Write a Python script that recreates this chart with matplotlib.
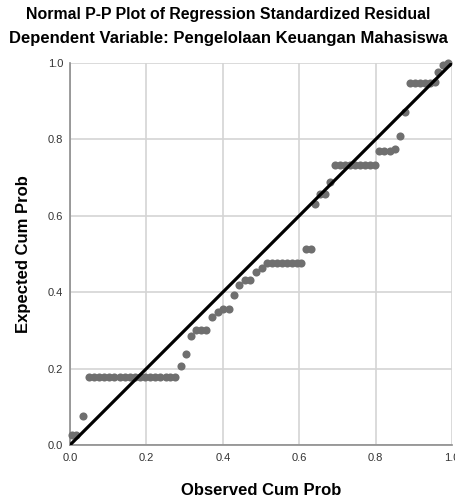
import numpy as np
import matplotlib.pyplot as plt

plt.rcParams['font.family'] = ['Liberation Sans', 'DejaVu Sans']

# observed vs expected cumulative probability
observed = [0.005, 0.015, 0.035,
            0.050, 0.063, 0.076, 0.090, 0.103, 0.116, 0.130, 0.143, 0.156,
            0.170, 0.183, 0.196, 0.210, 0.223, 0.236, 0.250, 0.263, 0.276,
            0.290, 0.303, 0.317, 0.330, 0.343, 0.357, 0.373, 0.388,
            0.401, 0.416, 0.429, 0.443, 0.458, 0.471, 0.488, 0.502,
            0.515, 0.528, 0.541, 0.555, 0.568, 0.581, 0.594, 0.605,
            0.617, 0.630, 0.641, 0.654, 0.667, 0.680,
            0.694, 0.707, 0.720, 0.733, 0.746, 0.759, 0.772, 0.785, 0.798,
            0.810, 0.823, 0.837, 0.850, 0.864, 0.877,
            0.890, 0.903, 0.916, 0.929, 0.942, 0.955,
            0.964, 0.977, 0.990]
expected = [0.026, 0.026, 0.076,
            0.179, 0.179, 0.179, 0.179, 0.179, 0.179, 0.179, 0.179, 0.179,
            0.179, 0.179, 0.179, 0.179, 0.179, 0.179, 0.179, 0.179, 0.179,
            0.207, 0.237, 0.286, 0.302, 0.302, 0.302, 0.336, 0.347,
            0.356, 0.356, 0.393, 0.419, 0.432, 0.432, 0.452, 0.463,
            0.476, 0.476, 0.476, 0.476, 0.476, 0.476, 0.476, 0.477,
            0.512, 0.512, 0.630, 0.657, 0.657, 0.688,
            0.733, 0.733, 0.733, 0.733, 0.733, 0.733, 0.733, 0.733, 0.733,
            0.770, 0.770, 0.770, 0.775, 0.810, 0.873,
            0.947, 0.947, 0.947, 0.947, 0.947, 0.950,
            0.977, 0.995, 1.000]
tick_vals = [0.0, 0.2, 0.4, 0.6, 0.8, 1.0]
tick_labels = ['0.0', '0.2', '0.4', '0.6', '0.8', '1.0']

fig = plt.figure(figsize=(4.56, 4.98), dpi=100)
ax = fig.add_axes([70/456, 53/498, 382/456, 382/498])

ax.scatter(observed, expected, s=34, color='#6f6f6f', zorder=3, linewidths=0, clip_on=False)
ax.plot([0, 1], [0, 1], color='black', linewidth=2.3, zorder=4, solid_capstyle='butt')

ax.set_xlim(0, 1)
ax.set_ylim(0, 1)
ax.set_xticks(tick_vals)
ax.set_yticks(tick_vals)
ax.set_xticklabels(tick_labels, fontsize=8, color='#333333')
ax.set_yticklabels(tick_labels, fontsize=8, color='#333333')
ax.tick_params(axis='x', length=0, pad=6)
ax.tick_params(axis='y', length=0, pad=5)
ax.grid(True, color='#d4d4d4', linewidth=1.2)
ax.set_axisbelow(True)
for side in ['top', 'right']:
    ax.spines[side].set_visible(False)
for side in ['left', 'bottom']:
    ax.spines[side].set_color('#8c8c8c')
    ax.spines[side].set_linewidth(1.2)

ax.set_xlabel('Observed Cum Prob', fontsize=12, fontweight='bold', labelpad=14)
ax.set_ylabel('Expected Cum Prob', fontsize=12, fontweight='bold', labelpad=12)

fig.text(0.5, 1 - 15/498, 'Normal P-P Plot of Regression Standardized Residual',
         ha='center', va='center', fontsize=11.4, fontweight='bold')
fig.text(0.5, 1 - 38/498, 'Dependent Variable: Pengelolaan Keuangan Mahasiswa',
         ha='center', va='center', fontsize=12, fontweight='bold')

fig.savefig('out.png', dpi=100)
